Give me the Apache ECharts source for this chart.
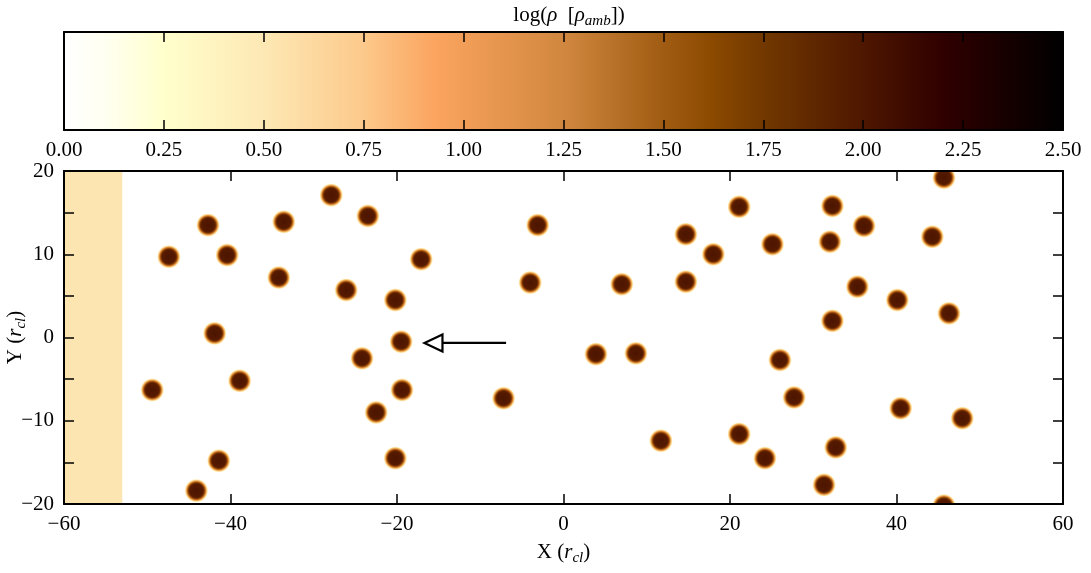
<!DOCTYPE html>
<html>
<head>
<meta charset="utf-8">
<script src="https://cdn.jsdelivr.net/npm/echarts@6/dist/echarts.min.js"></script>
<style>
html,body{margin:0;padding:0;background:#fff;}
#main{width:1091px;height:573px;}
</style>
</head>
<body>
<div id="main"></div>
<script>
// ---------------- DATA ----------------
const cloudX = [-49.4,-47.4,-42.7,-40.4,-41.9,-38.9,-41.4,-44.1,-33.6,-34.2,-27.9,-23.5,-26.1,-20.2,-17.1,-24.2,-19.5,-19.4,-22.5,-20.2,
  -7.2,-4.0,-3.1,3.9,8.7,7.0,11.7,14.7,14.7,18.0,21.1,21.1,25.1,26.0,24.2,27.7,32.3,32.0,32.3,32.7,31.3,36.1,35.3,40.1,40.5,44.3,45.7,46.3,47.9,45.7];
const cloudY = [-6.3,9.7,13.5,9.9,0.5,-5.2,-14.8,-18.4,13.9,7.2,17.1,14.6,5.7,4.5,9.4,-2.5,-0.5,-6.3,-9.0,-14.5,
  -7.3,6.6,13.5,-2.0,-1.9,6.4,-12.4,12.4,6.7,10.0,15.7,-11.6,11.2,-2.7,-14.5,-7.2,15.8,11.5,2.0,-13.2,-17.7,13.4,6.1,4.5,-8.5,12.1,19.2,2.9,-9.7,-20.2];
const xTicks = [-60,-40,-20,0,20,40,60];
const yTicks = [-20,-10,0,10,20];
const cbarTicks = [0,0.25,0.5,0.75,1.0,1.25,1.5,1.75,2.0,2.25,2.5];
const cmapPos = [0, 0.1, 0.25, 0.5, 0.75, 0.93, 1.25, 1.5, 1.62, 1.75, 2.0, 2.2, 2.5];
const cmapColor = ['#ffffff','#fffff2','#ffffcc','#fde8b4','#fcc98b','#fba45f','#d1873f','#a05c12','#8c4a00','#723800','#4e1700','#300000','#000000'];
const bandRange = [-60, -53];
const arrowData = [[-6.9, -16.7, -0.65]]; // tailX, tipX, y
const cloudCoreColor = '#561a00';
const bandColor = '#fde5b2';

const FONT = '"Liberation Serif", "DejaVu Serif", serif';
const xMin = -60, xMax = 60, yMin = -20, yMax = 20;

const chart = echarts.init(document.getElementById('main'), null, {renderer:'canvas'});

const cbMin = cmapPos[0], cbMax = cmapPos[cmapPos.length-1];
const cmapStops = cmapPos.map((p,i)=>({offset:(p-cbMin)/(cbMax-cbMin), color:cmapColor[i]}));

const axisLineStyle = {show:true, onZero:false, lineStyle:{color:'#000', width:2}};
const tickStyle = {lineStyle:{color:'#000', width:1.5}};
const minusFmt = v => String(v).replace('-', '\u2212');

const richName = (fs, sfs, shift) => ({
  n:{fontFamily:FONT, fontSize:fs, color:'#000', lineHeight:fs+2, verticalAlign:'top'},
  i:{fontFamily:FONT, fontSize:fs, fontStyle:'italic', color:'#000', lineHeight:fs+2, verticalAlign:'top'},
  s:{fontFamily:FONT, fontSize:sfs, fontStyle:'italic', color:'#000', lineHeight:fs+2+2*shift, verticalAlign:'middle'}
});

const option = {
  animation:false,
  backgroundColor:'#fff',
  title:{
    text:'{n|log(}{i|ρ}{n|  [}{i|ρ}{s|amb}{n|])}',
    left:564, top:0, textAlign:'center',
    textStyle:{fontFamily:FONT, fontSize:21, fontWeight:'normal', color:'#000', rich:richName(21, 15, 5)}
  },
  grid:[
    {left:64, top:32, width:999, height:98, containLabel:false, outerBoundsMode:'none'},
    {left:64, top:171, width:999, height:333, containLabel:false, outerBoundsMode:'none'}
  ],
  xAxis:[
    {gridIndex:0, type:'value', position:'bottom', min:cbMin, max:cbMax, interval:0.25, z:10,
      axisLine:axisLineStyle, axisTick:Object.assign({show:true, inside:true, length:10}, tickStyle),
      axisLabel:{show:true, margin:10, fontFamily:FONT, fontSize:21, color:'#000', formatter:v=>v.toFixed(2)},
      splitLine:{show:false}},
    {gridIndex:0, type:'value', position:'top', min:cbMin, max:cbMax, interval:0.25, z:10,
      axisLine:axisLineStyle, axisTick:Object.assign({show:true, inside:true, length:10}, tickStyle),
      axisLabel:{show:false}, splitLine:{show:false}},
    {gridIndex:1, type:'value', position:'bottom', min:xMin, max:xMax, interval:20, z:10,
      axisLine:axisLineStyle, axisTick:Object.assign({show:true, inside:true, length:10}, tickStyle),
      axisLabel:{show:true, margin:10, fontFamily:FONT, fontSize:21, color:'#000', formatter:minusFmt},
      splitLine:{show:false},
      name:'{n|X (}{i|r}{s|cl}{n|)}', nameLocation:'middle', nameGap:38,
      nameTextStyle:{fontFamily:FONT, fontSize:21, color:'#000', rich:richName(21, 15, 5)}},
    {gridIndex:1, type:'value', position:'top', min:xMin, max:xMax, interval:20, z:10,
      axisLine:axisLineStyle, axisTick:Object.assign({show:true, inside:true, length:10}, tickStyle),
      axisLabel:{show:false}, splitLine:{show:false}}
  ],
  yAxis:[
    {gridIndex:0, type:'value', position:'left', min:0, max:1, z:10,
      axisLine:axisLineStyle, axisTick:{show:false}, axisLabel:{show:false}, splitLine:{show:false}},
    {gridIndex:0, type:'value', position:'right', min:0, max:1, z:10,
      axisLine:axisLineStyle, axisTick:{show:false}, axisLabel:{show:false}, splitLine:{show:false}},
    {gridIndex:1, type:'value', position:'left', min:yMin, max:yMax, interval:5, z:10,
      axisLine:axisLineStyle, axisTick:Object.assign({show:true, inside:true, length:10}, tickStyle),
      axisLabel:{show:true, margin:10, fontFamily:FONT, fontSize:21, color:'#000',
        formatter:v=> yTicks.indexOf(v) >= 0 ? minusFmt(v) : ''},
      splitLine:{show:false},
      name:'{n|Y (}{i|r}{s|cl}{n|)}', nameLocation:'middle', nameGap:26, nameRotate:90, nameMoveOverlap:false,
      nameTextStyle:{fontFamily:FONT, fontSize:21, color:'#000', rich:richName(21, 15, 5)}},
    {gridIndex:1, type:'value', position:'right', min:yMin, max:yMax, interval:5, z:10,
      axisLine:axisLineStyle, axisTick:Object.assign({show:true, inside:true, length:10}, tickStyle),
      axisLabel:{show:false}, splitLine:{show:false}}
  ],
  series:[
    // colorbar gradient
    {type:'custom', xAxisIndex:0, yAxisIndex:0, silent:true,
      data:[[cbMin, cbMax]],
      renderItem:(params, api)=>{
        const p0 = api.coord([api.value(0), 1]);
        const p1 = api.coord([api.value(1), 0]);
        return {type:'rect', shape:{x:p0[0], y:p0[1], width:p1[0]-p0[0], height:p1[1]-p0[1]},
          style:{fill:{type:'linear', x:0, y:0, x2:1, y2:0, colorStops:cmapStops}}};
      }},
    // shaded band
    {type:'custom', xAxisIndex:2, yAxisIndex:2, silent:true, clip:true,
      data:[bandRange],
      renderItem:(params, api)=>{
        const p0 = api.coord([api.value(0), yMax]);
        const p1 = api.coord([api.value(1), yMin]);
        return {type:'rect', shape:{x:p0[0], y:p0[1], width:p1[0]-p0[0], height:p1[1]-p0[1]},
          style:{fill:bandColor}};
      }},
    // clouds
    {type:'custom', xAxisIndex:2, yAxisIndex:2, silent:true, clip:true,
      data:cloudX.map((x,i)=>[x, cloudY[i]]),
      renderItem:(params, api)=>{
        const c = api.coord([api.value(0), api.value(1)]);
        const s = api.size([1,1]);
        const r = s[0]*1.45;
        return {type:'circle', shape:{cx:c[0], cy:c[1], r:r},
          style:{fill:{type:'radial', x:0.5, y:0.5, r:0.5, colorStops:[
            {offset:0, color:'#4c1500'},
            {offset:0.55, color:cloudCoreColor},
            {offset:0.65, color:'#7a3400'},
            {offset:0.74, color:'#c06a1e'},
            {offset:0.83, color:'#f2b460'},
            {offset:0.91, color:'#feeab4'},
            {offset:1, color:'rgba(255,252,240,0)'}
          ]}}};
      }},
    // arrow
    {type:'custom', xAxisIndex:2, yAxisIndex:2, silent:true,
      data:arrowData,
      renderItem:(params, api)=>{
        const tail = api.coord([api.value(0), api.value(2)]);
        const tip = api.coord([api.value(1), api.value(2)]);
        const headLen = 18, headHalf = 8.5;
        const base = tip[0] + headLen;
        return {type:'group', children:[
          {type:'line', shape:{x1:tail[0], y1:tail[1], x2:base, y2:tip[1]},
            style:{stroke:'#000', lineWidth:2.2}},
          {type:'polygon', shape:{points:[[tip[0], tip[1]], [base, tip[1]-headHalf], [base, tip[1]+headHalf]]},
            style:{fill:'#fff', stroke:'#000', lineWidth:2.2, lineJoin:'miter'}}
        ]};
      }}
  ]
};
chart.setOption(option);
</script>
</body>
</html>
